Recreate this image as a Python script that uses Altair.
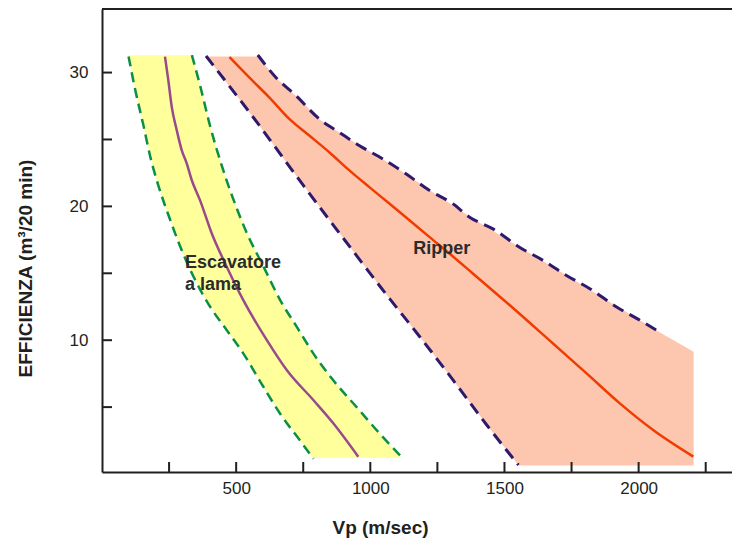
import altair as alt
import pandas as pd

# ---------------- data ----------------
# Escavatore a lama: band (x limits at given efficiency levels)
esc_y = [31.3, 29, 27, 25, 23, 21, 19, 17, 15, 13, 11, 9, 7, 5, 3, 1.2]
esc_left = [99, 121, 143, 166, 190, 219, 254, 291, 335, 389, 456, 527, 587, 648, 720, 786]
esc_right = [335, 366, 390, 417, 447, 481, 520, 564, 613, 664, 726, 788, 862, 949, 1036, 1117]

# green dashed limits
gl_x = [99, 124, 155, 180, 211, 254, 291.5, 335, 403, 465, 527, 602, 664, 738, 788]
gl_y = [31.2, 28.7, 26.0, 23.7, 21.5, 19.0, 17.0, 15.0, 12.5, 10.75, 9.0, 6.5, 4.5, 2.5, 1.14]
gr_x = [335, 366, 403, 447, 490, 540, 602, 664, 726, 788, 862, 949, 1036, 1117]
gr_y = [31.3, 29.0, 26.0, 23.0, 20.5, 18.0, 15.5, 13.0, 11.0, 9.0, 7.0, 5.0, 3.0, 1.26]

# purple mean curve
pm_x = [234.8, 247.1, 259.8, 278.4, 297, 315.7, 334.3, 365.2, 408.8, 464.8, 526.6, 613.8, 688.4, 787.5, 862, 955.2]
pm_y = [31.19, 29.44, 27.45, 25.71, 24.21, 23.22, 21.97, 20.47, 17.99, 15.49, 12.99, 10.02, 7.77, 5.53, 3.79, 1.29]

# Ripper: band
rip_y = [31.2, 29.6, 28, 26.5, 25, 23, 21, 19, 17, 15, 13, 11, 10.5, 9.13, 7, 5, 3, 1.8, 0.63]
rip_left = [389, 451, 512, 569, 625, 698, 772, 847, 923, 999, 1076, 1155, 1175, 1228, 1309, 1384, 1460, 1508, 1553]
rip_right = [581, 649, 736, 811, 924, 1089, 1237, 1389, 1552, 1719, 1880, 2045, 2086, 2205, 2205, 2205, 2205, 2205, 2205]

# navy dashed limits
nl_x = [387.6, 562.8, 749.1, 935.5, 1061, 1185, 1308, 1434, 1552]
nl_y = [31.24, 26.68, 21.6, 16.67, 13.38, 10.24, 7.03, 3.66, 0.67]
nr_x = [580.6, 649, 724, 810.8, 885, 960, 1047, 1134, 1221, 1308, 1370, 1457, 1556, 1644, 1731, 1818, 1918, 2005, 2086]
nr_y = [31.31, 29.62, 28.25, 26.52, 25.52, 24.53, 23.54, 22.42, 21.18, 20.19, 19.19, 18.32, 16.95, 15.96, 14.84, 13.85, 12.48, 11.49, 10.5]

# red mean curve
rm_x = [475, 549.6, 624, 699, 773.5, 848, 923, 997.4, 1072, 1147, 1221, 1296, 1383, 1520, 1681, 1806, 1930, 2054, 2204]
rm_y = [31.16, 29.62, 28.13, 26.52, 25.28, 24.03, 22.67, 21.42, 20.19, 18.94, 17.7, 16.46, 14.97, 12.61, 9.75, 7.52, 5.28, 3.29, 1.3]

x_labels = [500, 1000, 1500, 2000]
x_ticks = [250, 500, 750, 1000, 1250, 1500, 1750, 2000, 2250]
y_labels = [10, 20, 30]
y_ticks = [5, 10, 15, 20, 25, 30]

# ---------------- chart ----------------
W, H = 630, 463
INK = "#231f20"
FONT = "Liberation Sans"

xs = alt.Scale(domain=[0, 2348], nice=False, zero=False)
ys = alt.Scale(domain=[0.15, 34.75], nice=False, zero=False)

xaxis = alt.Axis(values=x_labels, format="d", ticks=False, grid=False, domainColor=INK, domainWidth=2,
                 labelFont=FONT, labelFontSize=17, labelColor=INK, labelPadding=8,
                 title="Vp (m/sec)", titleFont=FONT, titleFontSize=19, titleFontWeight="bold",
                 titleColor=INK, titleX=278, titleY=61, titleBaseline="alphabetic", titleAlign="center")
yaxis = alt.Axis(values=y_labels, format="d", ticks=False, grid=False, domainColor=INK, domainWidth=2,
                 labelFont=FONT, labelFontSize=17, labelColor=INK, labelPadding=14,
                 title="EFFICIENZA (m³/20 min)", titleFont=FONT, titleFontSize=19, titleFontWeight="bold",
                 titleColor=INK, titleAngle=270, titleX=-71, titleY=259, titleBaseline="alphabetic",
                 titleAlign="center")


def X(f):
    return alt.X(f, type="quantitative", scale=xs, axis=xaxis)


def Y(f):
    return alt.Y(f, type="quantitative", scale=ys, axis=yaxis)


def line_df(xv, yv):
    return pd.DataFrame({"x": xv, "y": yv, "o": list(range(len(xv)))})


esc_band = alt.Chart(pd.DataFrame({"y": esc_y, "l": esc_left, "r": esc_right})).mark_area(
    orient="horizontal", color="#ffff9c", opacity=1, interpolate="monotone").encode(y=Y("y"), x=X("l"), x2="r")
rip_band = alt.Chart(pd.DataFrame({"y": rip_y, "l": rip_left, "r": rip_right})).mark_area(
    orient="horizontal", color="#fdc6ae", opacity=1).encode(y=Y("y"), x=X("l"), x2="r")


def curve(xv, yv, color, width, dash=None):
    kw = dict(color=color, strokeWidth=width, strokeCap="butt", interpolate="monotone")
    if dash:
        kw["strokeDash"] = dash
    return alt.Chart(line_df(xv, yv)).mark_line(**kw).encode(x=X("x"), y=Y("y"), order="o:Q")


purple = curve(pm_x, pm_y, "#9a4a8c", 2.5)
red = curve(rm_x, rm_y, "#f03c00", 2.5)
g_left = curve(gl_x, gl_y, "#0a8f48", 2.5, [10, 6])
g_right = curve(gr_x, gr_y, "#0a8f48", 2.5, [10, 6])
n_left = curve(nl_x, nl_y, "#2d1a6e", 3, [12, 7])
n_right = curve(nr_x, nr_y, "#2d1a6e", 3, [12, 7])

xt = alt.Chart(pd.DataFrame({"t": x_ticks})).mark_rule(color=INK, strokeWidth=2).encode(
    x=X("t"), y=alt.value(H - 10), y2=alt.value(H))
yt = alt.Chart(pd.DataFrame({"t": y_ticks})).mark_rule(color=INK, strokeWidth=2).encode(
    y=Y("t"), x=alt.value(0), x2=alt.value(10))
top = alt.Chart(pd.DataFrame({"t": [0]})).mark_rule(color=INK, strokeWidth=2).encode(
    x=alt.value(0), x2=alt.value(W), y=alt.value(0))

txt_style = dict(align="left", baseline="middle", font=FONT, fontWeight="bold", fontSize=18, color="#2b2b2b")
t1 = alt.Chart().mark_text(**txt_style).encode(
    x=alt.XDatum(309, scale=xs, axis=xaxis), y=alt.YDatum(15.75, scale=ys, axis=yaxis), text=alt.value("Escavatore"))
t2 = alt.Chart().mark_text(**txt_style).encode(
    x=alt.XDatum(309, scale=xs, axis=xaxis), y=alt.YDatum(14.1, scale=ys, axis=yaxis), text=alt.value("a lama"))
t3 = alt.Chart().mark_text(**txt_style).encode(
    x=alt.XDatum(1160, scale=xs, axis=xaxis), y=alt.YDatum(16.8, scale=ys, axis=yaxis), text=alt.value("Ripper"))

chart = alt.layer(
    esc_band, rip_band, purple, red, g_left, g_right, n_left, n_right, xt, yt, top, t1, t2, t3
).properties(
    width=W, height=H,
    padding={"left": 94, "top": 1, "right": 0, "bottom": 70},
    autosize=alt.AutoSizeParams(type="none"),
    background="white",
).configure_view(stroke=None)

chart.save("out.html", embed_options={"renderer": "svg", "actions": False})
